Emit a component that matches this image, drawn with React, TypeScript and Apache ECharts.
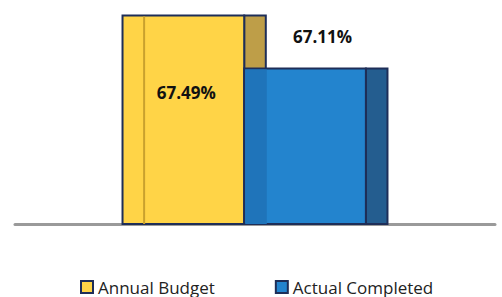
import React, { useEffect, useRef } from "react";
import * as echarts from "echarts";

const categories = [""];
const seriesNames = ["Annual Budget", "Actual Completed"];
const budgetValues = [67.49];
const completedValues = [67.11];
const valueLabels = ["67.49%", "67.11%"];

const FRONT = ["#FFD447", "#2384CE"];
const SIDE = ["#BE9E48", "#245D8F"];
const EDGE = "#1E2E58";

export default function App() {
  const ref = useRef<HTMLDivElement>(null);
  useEffect(() => {
    if (!ref.current) return;
    const chart = echarts.init(ref.current, undefined, { renderer: "svg" });

    const makeRender = (idx: number) => (params: any, api: any) => {
      const val = api.value(1);
      const [cx, yTop] = api.coord([api.value(0), val]);
      const yBase = api.coord([api.value(0), 66])[1];
      const band = api.size([1, 0])[0];
      const fw = band * 0.2535;
      const depth = band * 0.045;
      const off = depth / 2;
      const left = idx === 0 ? cx - off - fw : cx - off;
      const h = yBase - yTop;
      const children: any[] = [];
      children.push({
        type: "rect",
        shape: { x: left + fw, y: yTop, width: depth, height: h },
        style: { fill: SIDE[idx], stroke: EDGE, lineWidth: 2 },
      });
      children.push({
        type: "rect",
        shape: { x: left, y: yTop, width: fw, height: h },
        style: { fill: FRONT[idx], stroke: EDGE, lineWidth: 2 },
      });
      if (idx === 0) {
        children.push({
          type: "line",
          shape: { x1: left + depth, y1: yTop + 1, x2: left + depth, y2: yBase },
          style: { stroke: "#C9A12E", lineWidth: 2 },
        });
        children.push({
          type: "text",
          style: {
            text: valueLabels[0],
            x: left + fw / 2 + 3,
            y: yTop + 77,
            align: "center",
            verticalAlign: "middle",
            font: "bold 17px 'Open Sans', sans-serif",
            fill: "#111",
          },
        });
      } else {
        children.push({
          type: "rect",
          shape: { x: left + 1, y: yTop + 1, width: depth, height: h - 1 },
          style: { fill: "#1F74BA" },
        });
        children.push({
          type: "text",
          style: {
            text: valueLabels[1],
            x: left + fw + depth - 65,
            y: yTop - 32,
            align: "center",
            verticalAlign: "middle",
            font: "bold 17px 'Open Sans', sans-serif",
            fill: "#111",
          },
        });
      }
      return { type: "group", children };
    };

    chart.setOption({
      animation: false,
      grid: { left: 15, right: 7, top: 0, bottom: 73 },
      legend: {
        data: seriesNames.map((n, i) => ({
          name: n,
          icon: "rect",
          itemStyle: { color: FRONT[i], borderColor: EDGE, borderWidth: 2 },
        })),
        left: 80,
        top: 278,
        padding: 0,
        itemWidth: 12,
        itemHeight: 12,
        itemGap: 60,
        textStyle: { fontFamily: "'Open Sans', sans-serif", fontSize: 17, lineHeight: 18, color: "#222" },
      },
      xAxis: {
        type: "category",
        data: categories,
        axisLine: { lineStyle: { color: "#9A9A9A", width: 3 } },
        axisTick: { show: false },
        axisLabel: { show: false },
      },
      yAxis: { type: "value", min: 66, max: 67.6, show: false, splitLine: { show: false } },
      series: [
        {
          name: seriesNames[0],
          type: "custom",
          renderItem: makeRender(0),
          data: budgetValues.map((v, i) => [i, v]),
          itemStyle: { color: FRONT[0] },
        },
        {
          name: seriesNames[1],
          type: "custom",
          renderItem: makeRender(1),
          data: completedValues.map((v, i) => [i, v]),
          itemStyle: { color: FRONT[1] },
        },
      ],
    });
    return () => chart.dispose();
  }, []);
  return <div ref={ref} style={{ width: 502, height: 297, position: "absolute", left: 0, top: 0 }} />;
}
